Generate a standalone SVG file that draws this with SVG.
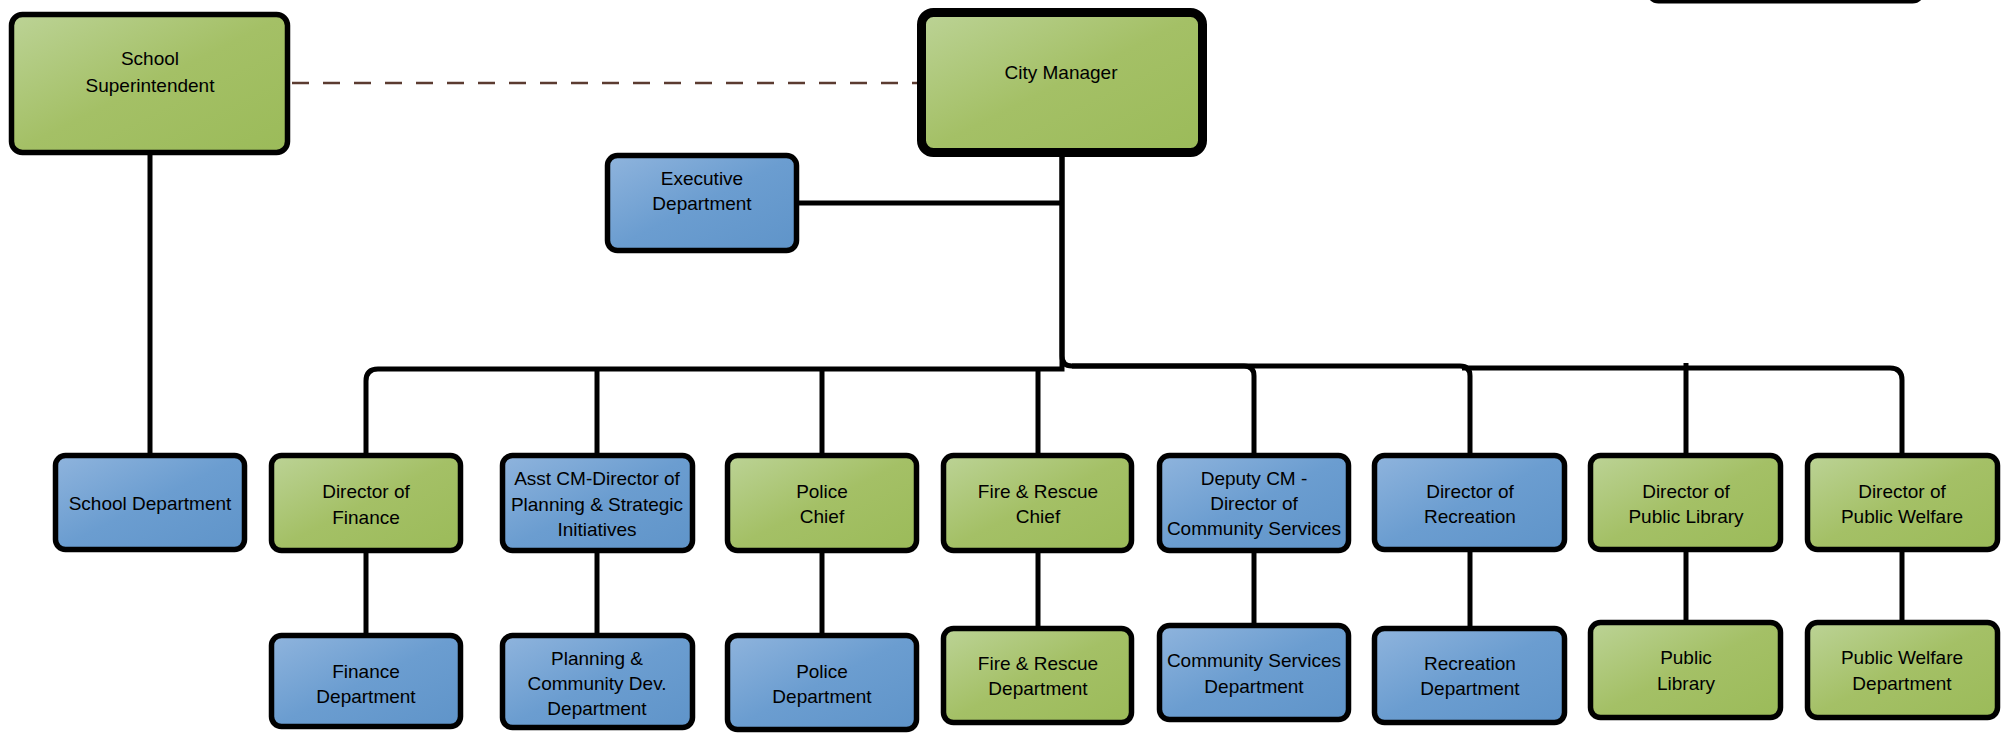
<svg xmlns="http://www.w3.org/2000/svg" width="2007" height="736" viewBox="0 0 2007 736">
<defs>
<linearGradient id="gG" x1="0" y1="0" x2="1" y2="1">
<stop offset="0" stop-color="#bcd396"/>
<stop offset="0.5" stop-color="#a4c066"/>
<stop offset="1" stop-color="#9bbb59"/>
</linearGradient>
<linearGradient id="gB" x1="0" y1="0" x2="1" y2="1">
<stop offset="0" stop-color="#8fb4dd"/>
<stop offset="0.5" stop-color="#6b9dd0"/>
<stop offset="1" stop-color="#5f94c9"/>
</linearGradient>
<style>
.n rect{stroke:#000;stroke-width:5.5}
.g rect{fill:url(#gG)}
.b rect{fill:url(#gB)}
text{font-family:"Liberation Sans",Arial,sans-serif;font-size:19px;fill:#000;text-anchor:middle}
.c{fill:none;stroke:#000;stroke-width:5}
.d{fill:none;stroke:#5b3b30;stroke-width:2.5;stroke-dasharray:17 14}
</style>
</defs>
<rect width="2007" height="736" fill="#fff"/>
<g id="connectors">
<line class="d" x1="292" y1="83" x2="917" y2="83"/>
<line class="c" x1="150" y1="155" x2="150" y2="453"/>
<line class="c" x1="799" y1="203" x2="1062" y2="203"/>
<path class="c" d="M1062 157 V356 Q1062 366 1072 366 H1460 Q1470 366 1470 376 V453"/>
<path class="c" d="M1072 366 H1244 Q1254 366 1254 376 V453"/>
<path class="c" d="M1062 157 V369 H378 Q366 369 366 381 V453"/>
<line class="c" x1="597" y1="369" x2="597" y2="453"/>
<line class="c" x1="822" y1="369" x2="822" y2="453"/>
<line class="c" x1="1038" y1="369" x2="1038" y2="453"/>
<path class="c" d="M1462 368 H1890 Q1902 368 1902 380 V453"/>
<line class="c" x1="1686" y1="363" x2="1686" y2="453"/>
<line class="c" x1="366" y1="553" x2="366" y2="633"/>
<line class="c" x1="597" y1="553" x2="597" y2="633"/>
<line class="c" x1="822" y1="553" x2="822" y2="633"/>
<line class="c" x1="1038" y1="553" x2="1038" y2="626"/>
<line class="c" x1="1254" y1="553" x2="1254" y2="623"/>
<line class="c" x1="1470" y1="552" x2="1470" y2="626"/>
<line class="c" x1="1686" y1="552" x2="1686" y2="620"/>
<line class="c" x1="1902" y1="552" x2="1902" y2="620"/>
</g>
<g id="top-partial"><rect x="1648.5" y="-60" width="274" height="61" rx="10" fill="#fff" stroke="#000" stroke-width="5"/></g>
<g id="school-superintendent" class="n g"><rect x="11.5" y="14.5" width="276" height="138" rx="11"/><text x="150" y="64.5">School</text><text x="150" y="91.5">Superintendent</text></g>
<g id="city-manager" class="n g"><rect x="921.5" y="12.5" width="281" height="140" rx="12" style="stroke-width:9"/><text x="1061" y="78.5">City Manager</text></g>
<g id="executive-department" class="n b"><rect x="607.5" y="155.5" width="189" height="95" rx="10"/><text x="702" y="184.5">Executive</text><text x="702" y="209.5">Department</text></g>
<g id="school-department" class="n b"><rect x="55.5" y="455.5" width="189" height="94" rx="10"/><text x="150" y="509.5">School Department</text></g>
<g id="director-finance" class="n g"><rect x="271.5" y="455.5" width="189" height="95" rx="10"/><text x="366" y="497.5">Director of</text><text x="366" y="523.5">Finance</text></g>
<g id="asst-cm" class="n b"><rect x="502.5" y="455.5" width="190" height="95" rx="10"/><text x="597" y="484.5">Asst CM-Director of</text><text x="597" y="510.5">Planning &amp; Strategic</text><text x="597" y="535.5">Initiatives</text></g>
<g id="police-chief" class="n g"><rect x="727.5" y="455.5" width="189" height="95" rx="10"/><text x="822" y="497.5">Police</text><text x="822" y="522.5">Chief</text></g>
<g id="fire-chief" class="n g"><rect x="943.5" y="455.5" width="188" height="95" rx="10"/><text x="1038" y="497.5">Fire &amp; Rescue</text><text x="1038" y="522.5">Chief</text></g>
<g id="deputy-cm" class="n b"><rect x="1159.5" y="455.5" width="189" height="95" rx="10"/><text x="1254" y="484.5">Deputy CM -</text><text x="1254" y="509.5">Director of</text><text x="1254" y="534.5">Community Services</text></g>
<g id="director-recreation" class="n b"><rect x="1374.5" y="455.5" width="190" height="94" rx="10"/><text x="1470" y="497.5">Director of</text><text x="1470" y="522.5">Recreation</text></g>
<g id="director-library" class="n g"><rect x="1590.5" y="455.5" width="190" height="94" rx="10"/><text x="1686" y="497.5">Director of</text><text x="1686" y="522.5">Public Library</text></g>
<g id="director-welfare" class="n g"><rect x="1807.5" y="455.5" width="190" height="94" rx="10"/><text x="1902" y="497.5">Director of</text><text x="1902" y="522.5">Public Welfare</text></g>
<g id="finance-department" class="n b"><rect x="271.5" y="635.5" width="189" height="91" rx="10"/><text x="366" y="677.5">Finance</text><text x="366" y="702.5">Department</text></g>
<g id="planning-department" class="n b"><rect x="502.5" y="635.5" width="190" height="92" rx="10"/><text x="597" y="664.5">Planning &amp;</text><text x="597" y="689.5">Community Dev.</text><text x="597" y="714.5">Department</text></g>
<g id="police-department" class="n b"><rect x="727.5" y="635.5" width="189" height="94" rx="10"/><text x="822" y="677.5">Police</text><text x="822" y="702.5">Department</text></g>
<g id="fire-department" class="n g"><rect x="943.5" y="628.5" width="188" height="94" rx="10"/><text x="1038" y="669.5">Fire &amp; Rescue</text><text x="1038" y="694.5">Department</text></g>
<g id="community-services-department" class="n b"><rect x="1159.5" y="625.5" width="189" height="94" rx="10"/><text x="1254" y="666.5">Community Services</text><text x="1254" y="692.5">Department</text></g>
<g id="recreation-department" class="n b"><rect x="1374.5" y="628.5" width="190" height="94" rx="10"/><text x="1470" y="669.5">Recreation</text><text x="1470" y="694.5">Department</text></g>
<g id="public-library" class="n g"><rect x="1590.5" y="622.5" width="190" height="95" rx="10"/><text x="1686" y="663.5">Public</text><text x="1686" y="689.5">Library</text></g>
<g id="public-welfare-department" class="n g"><rect x="1807.5" y="622.5" width="190" height="95" rx="10"/><text x="1902" y="663.5">Public Welfare</text><text x="1902" y="689.5">Department</text></g>
</svg>
